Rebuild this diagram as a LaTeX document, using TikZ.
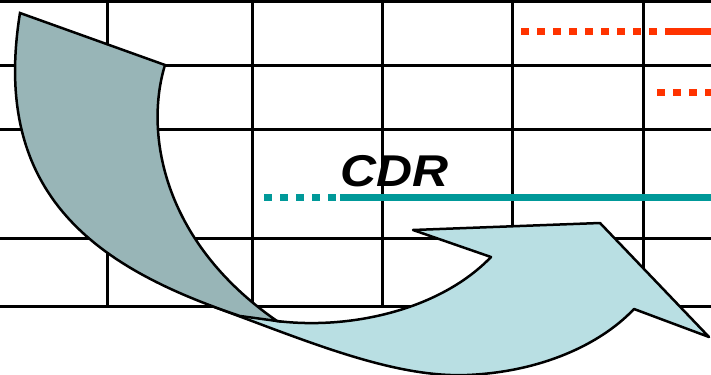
\documentclass[tikz,border=0pt]{standalone}
\usepackage{fontspec}
\setmainfont{Liberation Sans}
\definecolor{gridblack}{HTML}{000000}
\definecolor{redline}{HTML}{FF3300}
\definecolor{tealline}{HTML}{009999}
\definecolor{arrowdark}{HTML}{98B5B7}
\definecolor{arrowlight}{HTML}{B9DFE3}
\begin{document}
\begin{tikzpicture}[x=0.03cm,y=-0.03cm,
  gridline/.style={line width=0.09cm, draw=gridblack},
  redsolid/.style={line width=0.22cm, draw=redline},
  reddots/.style={line width=0.22cm, draw=redline, dash pattern=on 0.24cm off 0.24cm},
  tealsolid/.style={line width=0.22cm, draw=tealline},
  tealdots/.style={line width=0.22cm, draw=tealline, dash pattern=on 0.25cm off 0.23cm},
  arrowpart/.style={draw=black, line width=0.075cm, line join=miter},
  label/.style={inner sep=0pt, xscale=1.12, font=\fontsize{38}{44}\selectfont\bfseries\itshape}]
\useasboundingbox (0,0) rectangle (711,375);
\fill[white] (0,0) rectangle (711,375);
% grid
\foreach \y in {2,66,130,239,306} \draw[gridline] (0,\y) -- (711,\y);
\foreach \x in {107,252,382,512,643} \draw[gridline] (\x,0) -- (\x,306);
% red lines
\coordinate (r1a) at (521,31.5);
\coordinate (r1b) at (665,31.5);
\coordinate (r1c) at (711,31.5);
\draw[reddots] (r1a) -- (r1b);
\draw[redsolid] (r1b) -- (r1c);
\coordinate (r2a) at (657,92.3);
\coordinate (r2b) at (711,92.3);
\draw[reddots] (r2a) -- (r2b);
% teal line
\coordinate (t1a) at (264,197.5);
\coordinate (t1b) at (336,197.5);
\coordinate (t1c) at (340,197.5);
\coordinate (t1d) at (711,197.5);
\draw[tealdots] (t1a) -- (t1b);
\draw[tealsolid] (t1c) -- (t1d);
% label
\node[label, anchor=base west] (cdr) at (340,187) {CDR};
% light part of the arrow
\filldraw[arrowpart, fill=arrowlight, line join=round]
  (206,304) .. controls (300,338) and (390,378) .. (467,375)
  .. controls (540,372) and (600,345) .. (634,309)
  -- (709,337) -- (600,223) -- (413,230) -- (491,257)
  .. controls (440,310) and (350,330) .. (277,321)
  -- (230,310) -- cycle;
% dark part of the arrow
\filldraw[arrowpart, fill=arrowdark]
  (20,13) -- (165,65)
  .. controls (145,130) and (160,240) .. (277,321)
  -- (240,316)
  .. controls (97.5,268) and (-9.6,196) .. (20,13)
  -- cycle;
\end{tikzpicture}
\end{document}
